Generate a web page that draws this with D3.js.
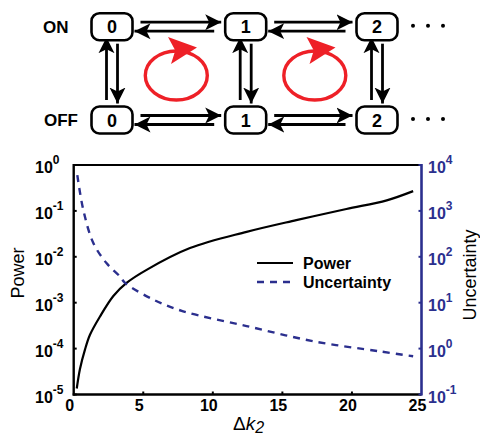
<!DOCTYPE html>
<html>
<head>
<meta charset="utf-8">
<script src="https://cdn.jsdelivr.net/npm/d3@7"></script>
<style>
  body { margin: 0; background: #fff; }
  svg { font-family: "Liberation Sans", Arial, sans-serif; }
</style>
</head>
<body>
<svg id="chart" width="480" height="435"></svg>
<script>
// values
const dk2 = [0.22, 0.45, 0.81, 1.17, 1.89, 2.85, 3.8, 5.24, 8.36, 12.43, 16.0, 19.6, 22.5, 24.4];
const power = [1.35e-5, 3.6e-5, 9.5e-5, 2.0e-4, 5.0e-4, 1.4e-3, 2.7e-3, 5.2e-3, 0.0155, 0.035, 0.063, 0.11, 0.17, 0.27];
const dk2U = [0.26, 0.69, 1.41, 2.37, 3.33, 3.69, 5.72, 7.87, 12.43, 17.2, 22.0, 24.4];
const uncertainty = [6000, 1050, 200, 72, 37, 27, 11.7, 6.5, 3.1, 1.45, 0.87, 0.68];
const xTicks = [0, 5, 10, 15, 20, 25];
const leftExps = [0, -1, -2, -3, -4, -5];
const rightExps = [4, 3, 2, 1, 0, -1];
const seriesNames = ["Power", "Uncertainty"];
const stateLabels = ["0", "1", "2"];
const rowLabels = ["ON", "OFF"];

const blue = "#2b2f8e";
const red = "#ee2027";
const svg = d3.select("#chart");

// ---------- state diagram ----------
const colX = [112, 245.7, 377];
const rowY = [26.7, 120];
const bw = 41, bh = 27;

const defs = svg.append("defs");
defs.append("marker")
    .attr("id", "head")
    .attr("markerUnits", "userSpaceOnUse")
    .attr("viewBox", "0 -9 18 18")
    .attr("markerWidth", 18).attr("markerHeight", 18)
    .attr("refX", 16).attr("refY", 0)
    .attr("orient", "auto")
    .append("path")
    .attr("d", "M0,-8L16,0L0,8L4,0Z")
    .attr("fill", "#000");

const diag = svg.append("g");

function arrow(x1, y1, x2, y2) {
    diag.append("line")
        .attr("x1", x1).attr("y1", y1).attr("x2", x2).attr("y2", y2)
        .attr("stroke", "#000").attr("stroke-width", 2.8)
        .attr("marker-end", "url(#head)");
}

rowY.forEach((cy, r) => {
    for (let i = 0; i < colX.length - 1; i++) {
        const right = colX[i] + bw / 2, left = colX[i + 1] - bw / 2;
        arrow(right + 8, cy - 4.5, left - 4, cy - 4.5);
        arrow(left - 11, cy + 4.5, right + 2, cy + 4.5);
    }
});
colX.forEach(cx => {
    const topB = rowY[0] + bh / 2, botT = rowY[1] - bh / 2;
    arrow(cx - 5.5, botT - 6.5, cx - 5.5, topB - 3);
    arrow(cx + 5.5, topB + 3.5, cx + 5.5, botT - 3);
});

rowY.forEach((cy, r) => {
    colX.forEach((cx, i) => {
        diag.append("rect")
            .attr("x", cx - bw / 2).attr("y", cy - bh / 2)
            .attr("width", bw).attr("height", bh)
            .attr("rx", 8)
            .attr("fill", "#fff").attr("stroke", "#000").attr("stroke-width", 2.6);
        diag.append("text")
            .attr("x", cx).attr("y", cy + 6.5)
            .attr("text-anchor", "middle")
            .attr("font-weight", "bold").attr("font-size", 18)
            .text(stateLabels[i]);
    });
    diag.append("text")
        .attr("x", r === 0 ? 43 : 44).attr("y", cy + 6)
        .attr("font-weight", "bold").attr("font-size", 17)
        .text(rowLabels[r]);
    [413, 428, 443].forEach(dx => {
        diag.append("circle").attr("cx", dx).attr("cy", cy - 1).attr("r", 2).attr("fill", "#000");
    });
});

[176.3, 314.8].forEach(ex => {
    const ey = 75.5;
    diag.append("ellipse")
        .attr("cx", ex).attr("cy", ey)
        .attr("rx", 31).attr("ry", 24.5)
        .attr("fill", "none").attr("stroke", red).attr("stroke-width", 3.4);
    diag.append("path")
        .attr("d", `M${ex - 8.3},${ey - 38.5}L${ex + 20.7},${ey - 28}L${ex - 5.3},${ey - 11.5}L${ex - 1},${ey - 25}Z`)
        .attr("fill", red);
});

// ---------- chart ----------
const x = d3.scaleLinear().domain([0, 25]).range([73.7, 421.5]);
const yL = d3.scaleLog().domain([1e-5, 1]).range([394.5, 165]);
const yR = d3.scaleLog().domain([0.1, 1e4]).range([394.5, 165]);

const plot = svg.append("g");

// frame
plot.append("line").attr("x1", x(0)).attr("x2", x(25)).attr("y1", yL(1)).attr("y2", yL(1))
    .attr("stroke", "#000").attr("stroke-width", 2.2);

// curves
const powerLine = d3.line()
    .x((d, i) => x(dk2[i]))
    .y(d => yL(d))
    .curve(d3.curveCatmullRom.alpha(0.5));
plot.append("path")
    .attr("d", powerLine(power))
    .attr("fill", "none").attr("stroke", "#000").attr("stroke-width", 2.2);

const uncLine = d3.line()
    .x((d, i) => x(dk2U[i]))
    .y(d => yR(d))
    .curve(d3.curveCatmullRom.alpha(0.5));
plot.append("path")
    .attr("d", uncLine(uncertainty))
    .attr("fill", "none").attr("stroke", blue).attr("stroke-width", 2.4)
    .attr("stroke-dasharray", "7,6");

// bottom axis
const xAxis = plot.append("g").attr("transform", `translate(0,${yL(1e-5)})`);
xAxis.append("line").attr("x1", x(0) - 1).attr("x2", x(25)).attr("stroke", "#000").attr("stroke-width", 2.4);
xAxis.selectAll(".tk").data(xTicks.slice(1, -1)).join("line")
    .attr("x1", d => x(d)).attr("x2", d => x(d)).attr("y1", 0).attr("y2", -3)
    .attr("stroke", "#000").attr("stroke-width", 2);
xAxis.selectAll("text").data(xTicks).join("text")
    .attr("x", d => x(d) - 4).attr("y", 16)
    .attr("text-anchor", "middle")
    .attr("font-weight", "bold").attr("font-size", 16)
    .text(d => d);

// left axis
const lAxis = plot.append("g");
lAxis.append("line").attr("x1", x(0)).attr("x2", x(0)).attr("y1", yL(1) - 1).attr("y2", yL(1e-5) + 1)
    .attr("stroke", "#000").attr("stroke-width", 2.4);
lAxis.selectAll(".tk").data(leftExps).join("line")
    .attr("x1", x(0)).attr("x2", x(0) + 3)
    .attr("y1", d => yL(Math.pow(10, d))).attr("y2", d => yL(Math.pow(10, d)))
    .attr("stroke", "#000").attr("stroke-width", 2);
const lt = lAxis.selectAll("text").data(leftExps).join("text")
    .attr("x", 35).attr("y", d => yL(Math.pow(10, d)) + 8)
    .attr("font-weight", "bold").attr("font-size", 16);
lt.append("tspan").text("10");
lt.append("tspan").attr("dy", -9).attr("font-size", 12).text(d => d < 0 ? "-" + (-d) : d);

// right axis
const rAxis = plot.append("g");
rAxis.append("line").attr("x1", x(25)).attr("x2", x(25)).attr("y1", yR(1e4) - 1).attr("y2", yR(0.1) + 1)
    .attr("stroke", blue).attr("stroke-width", 2.6);
rAxis.selectAll(".tk").data(rightExps).join("line")
    .attr("x1", x(25)).attr("x2", x(25) - 3)
    .attr("y1", d => yR(Math.pow(10, d))).attr("y2", d => yR(Math.pow(10, d)))
    .attr("stroke", blue).attr("stroke-width", 2);
const rt = rAxis.selectAll("text").data(rightExps).join("text")
    .attr("x", 428).attr("y", d => yR(Math.pow(10, d)) + 8)
    .attr("fill", blue)
    .attr("font-weight", "bold").attr("font-size", 16);
rt.append("tspan").text("10");
rt.append("tspan").attr("dy", -9).attr("font-size", 12).text(d => d < 0 ? "-" + (-d) : d);

// axis titles
svg.append("text")
    .attr("transform", "translate(24,273) rotate(-90)")
    .attr("text-anchor", "middle").attr("font-size", 18)
    .text("Power");
svg.append("text")
    .attr("transform", "translate(476,275) rotate(-90)")
    .attr("text-anchor", "middle").attr("font-size", 18)
    .text("Uncertainty");
const xt = svg.append("text")
    .attr("x", 233).attr("y", 430)
    .attr("font-size", 19);
xt.append("tspan").text("\u0394");
xt.append("tspan").attr("font-style", "italic").text("k");
xt.append("tspan").attr("font-style", "italic").attr("dy", 3).attr("font-size", 16).text("2");

// legend
const legend = svg.append("g");
const legY = [263, 282];
legend.selectAll("line").data(seriesNames).join("line")
    .attr("x1", 257).attr("x2", 293)
    .attr("y1", (d, i) => legY[i]).attr("y2", (d, i) => legY[i])
    .attr("stroke", (d, i) => i === 0 ? "#000" : blue)
    .attr("stroke-width", (d, i) => i === 0 ? 2.2 : 2.4)
    .attr("stroke-dasharray", (d, i) => i === 0 ? null : "7,6");
legend.selectAll("text").data(seriesNames).join("text")
    .attr("x", 303).attr("y", (d, i) => legY[i] + 6)
    .attr("font-weight", "bold").attr("font-size", 16)
    .text(d => d);
</script>
</body>
</html>
